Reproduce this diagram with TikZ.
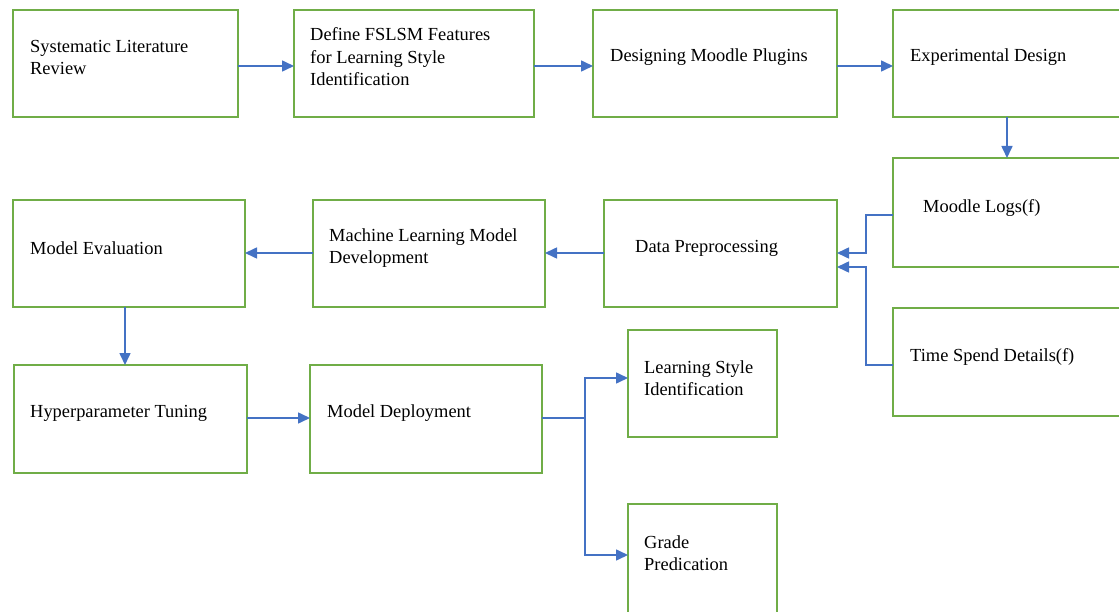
\documentclass[tikz,border=0pt]{standalone}
\usepackage{fontspec}
\setmainfont{Liberation Serif}
\usetikzlibrary{arrows.meta}
\definecolor{boxgreen}{RGB}{112,173,71}
\definecolor{linkblue}{RGB}{68,114,196}
\begin{document}
\begin{tikzpicture}[x=1bp,y=-1bp,
 box/.style={draw=boxgreen, line width=2.5bp, rectangle, inner sep=0pt, outer sep=0pt, anchor=north west},
 lbl/.style={anchor=west, align=left, inner sep=0pt, font=\fontsize{18.5pt}{22.5bp}\selectfont},
 link/.style={draw=linkblue, line width=1.6bp},
 arr/.style={link, -{Triangle[length=12bp,width=11bp]}}]
\useasboundingbox (0,0) rectangle (1119,612);
% boxes
\node[box, minimum width=225bp, minimum height=107bp] (b1) at (13,10) {};
\node[box, minimum width=240bp, minimum height=107bp] (b2) at (294,10) {};
\node[box, minimum width=244bp, minimum height=107bp] (b3) at (593,10) {};
\node[box, minimum width=229bp, minimum height=107bp] (b4) at (893,10) {};
\node[box, minimum width=229bp, minimum height=109bp] (b5) at (893,158) {};
\node[box, minimum width=229bp, minimum height=108bp] (b6) at (893,308) {};
\node[box, minimum width=233bp, minimum height=107bp] (b7) at (604,200) {};
\node[box, minimum width=232bp, minimum height=107bp] (b8) at (313,200) {};
\node[box, minimum width=232bp, minimum height=107bp] (b9) at (13,200) {};
\node[box, minimum width=233bp, minimum height=108bp] (b10) at (14,365) {};
\node[box, minimum width=232bp, minimum height=108bp] (b11) at (310,365) {};
\node[box, minimum width=149bp, minimum height=107bp] (b12) at (628,330) {};
\node[box, minimum width=149bp, minimum height=112bp] (b13) at (628,504) {};
% labels
\node[lbl] (t1) at (30,57.5) {Systematic Literature\\Review};
\node[lbl] (t2) at (310,57) {Define FSLSM Features\\for Learning Style\\Identification};
\node[lbl] (t3) at (610,57) {Designing Moodle Plugins};
\node[lbl] (t4) at (910,57) {Experimental Design};
\node[lbl] (t5) at (923,208) {Moodle Logs(f)};
\node[lbl] (t6) at (910,357) {Time Spend Details(f)};
\node[lbl] (t7) at (635,248) {Data Preprocessing};
\node[lbl] (t8) at (329,248) {Machine Learning Model\\Development};
\node[lbl] (t9) at (30,248) {Model Evaluation};
\node[lbl] (t10) at (30,413) {Hyperparameter Tuning};
\node[lbl] (t11) at (327,413) {Model Deployment};
\node[lbl] (t12) at (644,378) {Learning Style\\Identification};
\node[lbl] (t13) at (644,553) {Grade\\Predication};
% connectors
\draw[arr] (b1.east |- 0,66) -- (b2.west |- 0,66);
\draw[arr] (b2.east |- 0,66) -- (b3.west |- 0,66);
\draw[arr] (b3.east |- 0,66) -- (b4.west |- 0,66);
\draw[arr] (b4.south -| 1007,0) -- (b5.north -| 1007,0);
\coordinate (m1) at (866,215);
\coordinate (m2) at (866,365);
\draw[arr] (b5.west |- m1) -- (m1) |- (b7.east |- 0,253);
\draw[arr] (b6.west |- m2) -- (m2) |- (b7.east |- 0,267);
\draw[arr] (b7.west |- 0,253) -- (b8.east |- 0,253);
\draw[arr] (b8.west |- 0,253) -- (b9.east |- 0,253);
\draw[arr] (b9.south -| 125,0) -- (b10.north -| 125,0);
\draw[arr] (b10.east |- 0,418) -- (b11.west |- 0,418);
\coordinate (sp) at (585,418);
\draw[link] (b11.east |- sp) -- (sp);
\draw[arr] (sp) |- (b12.west |- 0,378);
\draw[arr] (sp) |- (b13.west |- 0,555);
\end{tikzpicture}
\end{document}
